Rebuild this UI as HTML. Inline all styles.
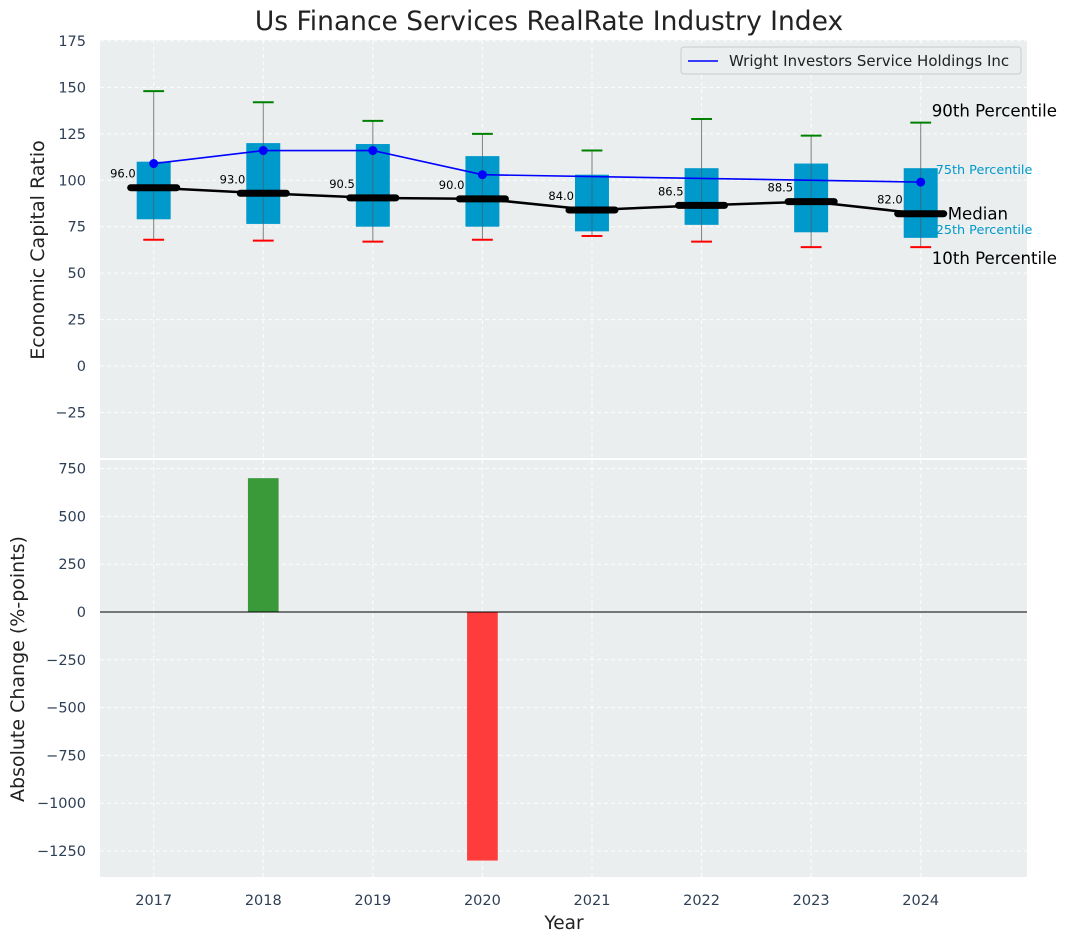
<!DOCTYPE html>
<html><head><meta charset="utf-8">
<style>
html,body{margin:0;padding:0;background:#fff;}
svg{display:block;font-family:"DejaVu Sans","Liberation Sans",sans-serif;}
</style></head>
<body>
<svg id="chart" width="1067" height="942" viewBox="0 0 1067 942"></svg>
<script>
const years = [2017,2018,2019,2020,2021,2022,2023,2024];
const p10 = [68,67.5,67,68,70,67,64,64];
const p25 = [79,76.5,75,75,72.5,76,72,69];
const p75 = [110,120,119.5,113,103,106.5,109,106.5];
const p90 = [148,142,132,125,116,133,124,131];
const medians = [96,93,90.5,90,84,86.5,88.5,82];
const company = [109,116,116,103,null,null,null,99];
const changeVals = [0,700,0,-1300,0,0,0,0];
const topTicks = [-25,0,25,50,75,100,125,150,175];
const botTicks = [-1250,-1000,-750,-500,-250,0,250,500,750];

const NS="http://www.w3.org/2000/svg";
const svg=document.getElementById('chart');
function el(tag,attrs,parent,text){const e=document.createElementNS(NS,tag);for(const k in attrs)e.setAttribute(k,attrs[k]);if(text!==undefined)e.textContent=text;(parent||svg).appendChild(e);return e;}

const L=100,R=1027;
const xmin=2016.51,xmax=2024.97;
const X=v=>L+(v-xmin)/(xmax-xmin)*(R-L);
const T0=40,T1=458,tmin=-49.5,tmax=175.5;
const YT=v=>T1-(v-tmin)/(tmax-tmin)*(T1-T0);
const B0=460,B1=877,bmin=-1386,bmax=795;
const YB=v=>B1-(v-bmin)/(bmax-bmin)*(B1-B0);

let r=el('rect',{x:L,y:T0,width:R-L,height:T1-T0,fill:'#eaeeee'});

r=el('rect',{x:L,y:B0,width:R-L,height:B1-B0,fill:'#eaeeee'});


const grid=el('g',{stroke:'#ffffff','stroke-dasharray':'4,3','stroke-width':1,opacity:0.9});

years.forEach(y=>{el('line',{x1:X(y),x2:X(y),y1:T0,y2:T1},grid);el('line',{x1:X(y),x2:X(y),y1:B0,y2:B1},grid);});
topTicks.forEach(t=>el('line',{x1:L,x2:R,y1:YT(t),y2:YT(t)},grid));
botTicks.forEach(t=>el('line',{x1:L,x2:R,y1:YB(t),y2:YB(t)},grid));

topTicks.forEach(t=>{const e=el('text',{x:L-14,y:YT(t)+5,'text-anchor':'end','font-size':14.5,fill:'#2e3f55'},null,t<0?'\u2212'+(-t):String(t));});
botTicks.forEach(t=>{const e=el('text',{x:L-14,y:YB(t)+5,'text-anchor':'end','font-size':14.5,fill:'#2e3f55'},null,t<0?'\u2212'+(-t):String(t));});
years.forEach(y=>{const e=el('text',{x:X(y),y:B1+28,'text-anchor':'middle','font-size':14.5,fill:'#2e3f55'},null,String(y));});

const bw=0.31, mw=0.42, cw=0.19;
years.forEach((y,i)=>{
  const g=el('g',{});
  el('line',{x1:X(y),x2:X(y),y1:YT(p90[i]),y2:YT(p10[i]),stroke:'#808080','stroke-width':1},g);
  el('rect',{x:X(y-bw/2),y:YT(p75[i]),width:X(y+bw/2)-X(y-bw/2),height:YT(p25[i])-YT(p75[i]),fill:'#0099cc'},g);
  el('line',{x1:X(y),x2:X(y),y1:YT(p75[i]),y2:YT(p25[i]),stroke:'#555','stroke-width':1,opacity:0.6},g);
  el('line',{x1:X(y-cw/2),x2:X(y+cw/2),y1:YT(p90[i]),y2:YT(p90[i]),stroke:'green','stroke-width':2},g);
  el('line',{x1:X(y-cw/2),x2:X(y+cw/2),y1:YT(p10[i]),y2:YT(p10[i]),stroke:'red','stroke-width':2},g);
});
let pts=years.map((y,i)=>X(y)+','+YT(medians[i])).join(' ');
let ml=el('polyline',{points:pts,fill:'none',stroke:'#000','stroke-width':2.5});

years.forEach((y,i)=>{
  const m=el('line',{x1:X(y-mw/2),x2:X(y+mw/2),y1:YT(medians[i]),y2:YT(medians[i]),stroke:'#000','stroke-width':7,'stroke-linecap':'round'});
  
  const t=el('text',{x:X(y)-18,y:YT(medians[i])-10,'text-anchor':'end','font-size':11.5,fill:'#000'},null,medians[i].toFixed(1));
  
});
const cp=[];years.forEach((y,i)=>{if(company[i]!==null)cp.push(X(y)+','+YT(company[i]));});
let cl=el('polyline',{points:cp.join(' '),fill:'none',stroke:'#0000ff','stroke-width':1.6});

years.forEach((y,i)=>{if(company[i]===null)return;const c=el('circle',{cx:X(y),cy:YT(company[i]),r:4.5,fill:'#0000ff'});});

const ly=years[years.length-1],li=years.length-1;
function ann(txt,x,y,size,color,name){const t=el('text',{x:x,y:y,'font-size':size,fill:color},null,txt);}
ann('90th Percentile',X(ly)+11,YT(p90[li])-6,16.6,'#000','label-90th');
ann('75th Percentile',X(ly)+15,YT(p75[li])+6,12.8,'#0099cc','label-75th');
ann('Median',X(ly)+27,YT(medians[li])+6,16.6,'#000','label-median');
ann('25th Percentile',X(ly)+15,YT(p25[li])-4,12.8,'#0099cc','label-25th');
ann('10th Percentile',X(ly)+11,YT(p10[li])+17,16.6,'#000','label-10th');

const lg=el('g',{});
el('rect',{x:681,y:47,width:340,height:27,rx:3,fill:'#eaeeee',stroke:'#cccccc'},lg);
el('line',{x1:688,x2:718,y1:61,y2:61,stroke:'#0000ff','stroke-width':1.6},lg);
el('text',{x:729,y:66,'font-size':15,fill:'#222'},lg,'Wright Investors Service Holdings Inc');

const bwb=0.28;
years.forEach((y,i)=>{const v=changeVals[i];if(!v)return;
  const b=el('rect',{x:X(y-bwb/2),y:Math.min(YB(v),YB(0)),width:X(y+bwb/2)-X(y-bwb/2),height:Math.abs(YB(v)-YB(0)),fill:v>0?'#3a9a3a':'#ff3c3c'});
  });
let zl=el('line',{x1:L,x2:R,y1:YB(0),y2:YB(0),stroke:'#000','stroke-width':1});


let t=el('text',{x:549,y:30,'text-anchor':'middle','font-size':26.5,fill:'#222'},null,'Us Finance Services RealRate Industry Index');

t=el('text',{x:44,y:250,'text-anchor':'middle','font-size':19,fill:'#222',transform:'rotate(-90 44 250)'},null,'Economic Capital Ratio');

t=el('text',{x:24,y:669,'text-anchor':'middle','font-size':19,fill:'#222',transform:'rotate(-90 24 669)'},null,'Absolute Change (%-points)');

t=el('text',{x:564,y:929,'text-anchor':'middle','font-size':18.5,fill:'#222'},null,'Year');

</script>
</body></html>
